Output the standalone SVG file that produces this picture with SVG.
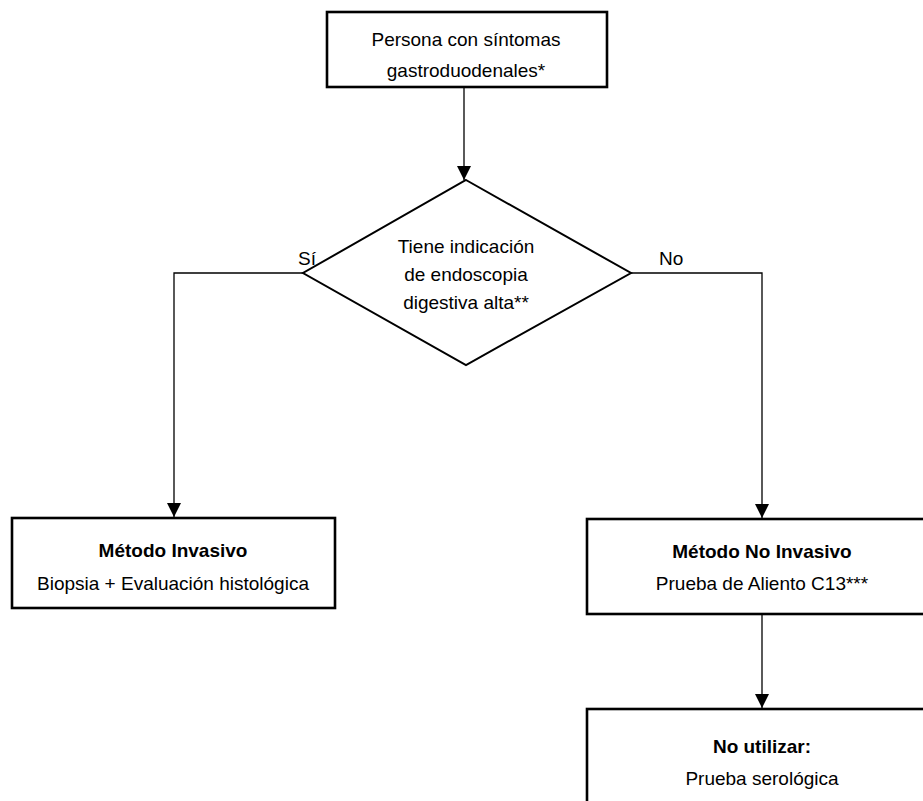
<svg xmlns="http://www.w3.org/2000/svg" width="923" height="801" viewBox="0 0 923 801">
<defs>
<marker id="ah" markerWidth="14" markerHeight="14" viewBox="0 0 14 14" refX="14" refY="7" orient="auto" markerUnits="userSpaceOnUse">
<path d="M0,0 L14,7 L0,14 Z" fill="#000"/>
</marker>
</defs>
<style>
text{font-family:"Liberation Sans",Arial,sans-serif;font-size:19px;fill:#000;text-anchor:middle}
.b{font-weight:bold}
.box{fill:#fff;stroke:#000;stroke-width:2.6}
.dia{fill:#fff;stroke:#000;stroke-width:2}
.c{fill:none;stroke:#000;stroke-width:1.3}
.lbl{text-anchor:start}
</style>
<rect width="923" height="801" fill="#fff"/>
<g id="connectors">
<path class="c" d="M464,87 V180" marker-end="url(#ah)"/>
<path class="c" d="M303,273 H174 V517" marker-end="url(#ah)"/>
<path class="c" d="M631,273 H762 V518" marker-end="url(#ah)"/>
<path class="c" d="M762,614 V708" marker-end="url(#ah)"/>
<text class="lbl" x="298" y="265">Sí</text>
<text class="lbl" x="659" y="265">No</text>
</g>
<g id="start">
<rect class="box" x="327" y="12" width="280" height="75"/>
<text x="466" y="46">Persona con síntomas</text>
<text x="466" y="77">gastroduodenales*</text>
</g>
<g id="decision">
<polygon class="dia" points="466,180 631,273 466,365 303,273"/>
<text x="466" y="253">Tiene indicación</text>
<text x="466" y="281">de endoscopia</text>
<text x="466" y="309">digestiva alta**</text>
</g>
<g id="invasivo">
<rect class="box" x="12" y="518" width="323" height="90"/>
<text class="b" x="173" y="557">Método Invasivo</text>
<text x="173" y="590">Biopsia + Evaluación histológica</text>
</g>
<g id="noinvasivo">
<rect class="box" x="587" y="519" width="345" height="95"/>
<text class="b" x="762" y="558">Método No Invasivo</text>
<text x="762" y="590">Prueba de Aliento C13***</text>
</g>
<g id="noutilizar">
<rect class="box" x="587" y="709" width="345" height="110"/>
<text class="b" x="762" y="753">No utilizar:</text>
<text x="762" y="785">Prueba serológica</text>
</g>
</svg>
